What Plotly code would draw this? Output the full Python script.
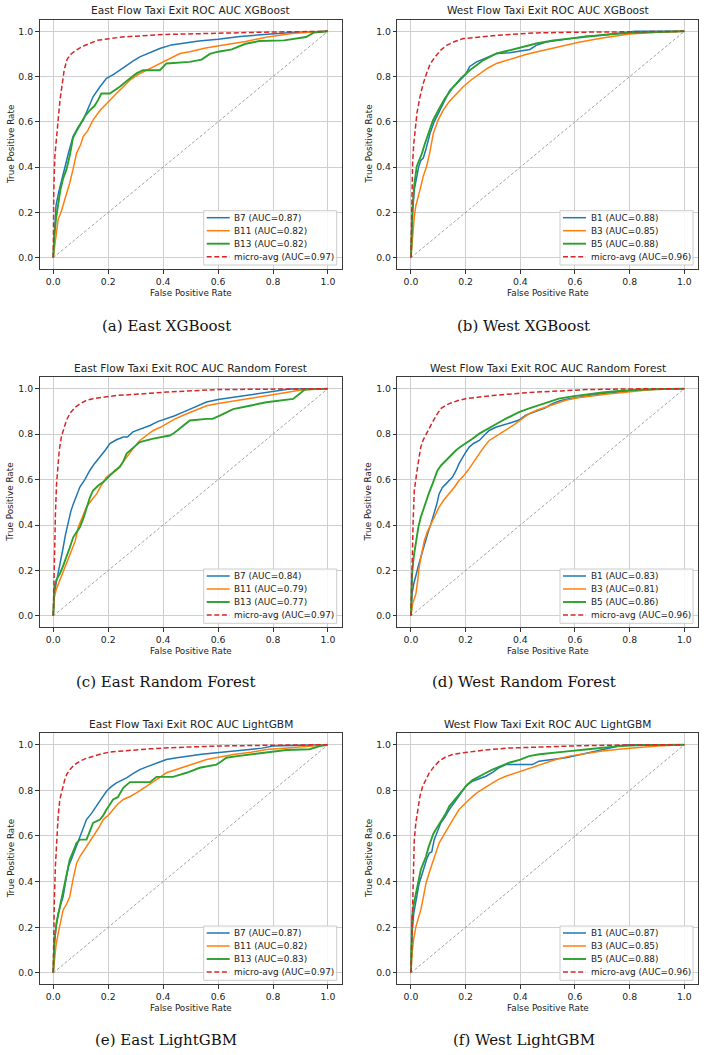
import plotly.graph_objects as go

# ---------------- data ----------------
TICK_VALUES = [0.0, 0.2, 0.4, 0.6, 0.8, 1.0]
TICK_LABELS = ["0.0", "0.2", "0.4", "0.6", "0.8", "1.0"]
DIAG_X = [0.0, 1.0]
DIAG_Y = [0.0, 1.0]

TITLES = [
    "East Flow Taxi Exit ROC AUC XGBoost",
    "West Flow Taxi Exit ROC AUC XGBoost",
    "East Flow Taxi Exit ROC AUC Random Forest",
    "West Flow Taxi Exit ROC AUC Random Forest",
    "East Flow Taxi Exit ROC AUC LightGBM",
    "West Flow Taxi Exit ROC AUC LightGBM",
]
CAPTIONS = [
    "(a) East XGBoost", "(b) West XGBoost",
    "(c) East Random Forest", "(d) West Random Forest",
    "(e) East LightGBM", "(f) West LightGBM",
]
EAST_CLASSES = ["B7", "B11", "B13"]
WEST_CLASSES = ["B1", "B3", "B5"]

AUC_A = [0.87, 0.82, 0.82, 0.97]
AUC_B = [0.88, 0.85, 0.88, 0.96]
AUC_C = [0.84, 0.79, 0.77, 0.97]
AUC_D = [0.83, 0.81, 0.86, 0.96]
AUC_E = [0.87, 0.82, 0.83, 0.97]
AUC_F = [0.87, 0.85, 0.88, 0.96]

# (a) East XGBoost
A1_X = [0, 0.004, 0.01, 0.02, 0.03, 0.042, 0.055, 0.072, 0.09, 0.109, 0.13, 0.145, 0.17, 0.194, 0.22, 0.255, 0.29, 0.315, 0.35, 0.388, 0.43, 0.461, 0.53, 0.6, 0.68, 0.78, 0.87, 0.95, 1.0]
A1_Y = [0, 0.12, 0.23, 0.29, 0.34, 0.39, 0.46, 0.535, 0.575, 0.608, 0.67, 0.711, 0.755, 0.792, 0.81, 0.84, 0.868, 0.887, 0.905, 0.924, 0.94, 0.946, 0.957, 0.965, 0.977, 0.987, 0.995, 0.998, 1.0]
A2_X = [0, 0.006, 0.012, 0.018, 0.028, 0.036, 0.048, 0.06, 0.072, 0.085, 0.1, 0.109, 0.125, 0.145, 0.17, 0.194, 0.21, 0.23, 0.255, 0.279, 0.31, 0.339, 0.37, 0.4, 0.43, 0.461, 0.497, 0.55, 0.62, 0.7, 0.78, 0.87, 0.94, 1.0]
A2_Y = [0, 0.066, 0.12, 0.17, 0.2, 0.23, 0.28, 0.33, 0.39, 0.462, 0.5, 0.535, 0.56, 0.608, 0.65, 0.681, 0.7, 0.725, 0.755, 0.784, 0.81, 0.828, 0.845, 0.865, 0.885, 0.902, 0.91, 0.925, 0.94, 0.955, 0.975, 0.99, 0.997, 1.0]
A3_X = [0, 0.004, 0.01, 0.018, 0.026, 0.036, 0.048, 0.06, 0.072, 0.085, 0.1, 0.115, 0.133, 0.15, 0.163, 0.175, 0.206, 0.242, 0.279, 0.303, 0.327, 0.388, 0.412, 0.497, 0.54, 0.57, 0.6, 0.65, 0.7, 0.75, 0.84, 0.92, 0.95, 1.0]
A3_Y = [0, 0.1, 0.17, 0.24, 0.3, 0.35, 0.389, 0.45, 0.53, 0.56, 0.59, 0.625, 0.651, 0.67, 0.696, 0.725, 0.725, 0.755, 0.792, 0.814, 0.828, 0.828, 0.858, 0.865, 0.875, 0.9, 0.91, 0.92, 0.945, 0.957, 0.96, 0.975, 0.995, 1.0]
A4_X = [0, 0.002, 0.006, 0.012, 0.018, 0.025, 0.032, 0.04, 0.05, 0.065, 0.085, 0.11, 0.16, 0.25, 0.4, 0.6, 0.8, 1.0]
A4_Y = [0, 0.3, 0.45, 0.55, 0.61, 0.7, 0.77, 0.83, 0.875, 0.9, 0.918, 0.935, 0.96, 0.975, 0.986, 0.993, 0.997, 1.0]

# (b) West XGBoost
B1_X = [0, 0.003, 0.006, 0.012, 0.02, 0.028, 0.036, 0.045, 0.055, 0.07, 0.085, 0.106, 0.125, 0.142, 0.16, 0.179, 0.2, 0.215, 0.24, 0.264, 0.29, 0.313, 0.361, 0.41, 0.435, 0.458, 0.495, 0.54, 0.6, 0.64, 0.7, 0.76, 0.82, 1.0]
B1_Y = [0, 0.12, 0.2, 0.3, 0.36, 0.4, 0.43, 0.44, 0.48, 0.55, 0.6, 0.652, 0.7, 0.74, 0.76, 0.784, 0.81, 0.845, 0.865, 0.877, 0.89, 0.902, 0.905, 0.916, 0.92, 0.938, 0.953, 0.96, 0.97, 0.978, 0.983, 0.993, 1.0, 1.0]
B2_X = [0, 0.003, 0.006, 0.012, 0.018, 0.027, 0.036, 0.045, 0.057, 0.068, 0.082, 0.1, 0.118, 0.14, 0.167, 0.191, 0.22, 0.252, 0.28, 0.313, 0.35, 0.386, 0.42, 0.458, 0.495, 0.55, 0.614, 0.7, 0.8, 0.9, 1.0]
B2_Y = [0, 0.05, 0.11, 0.18, 0.23, 0.28, 0.315, 0.36, 0.403, 0.46, 0.55, 0.61, 0.652, 0.69, 0.726, 0.755, 0.785, 0.814, 0.837, 0.858, 0.873, 0.887, 0.898, 0.909, 0.92, 0.935, 0.952, 0.97, 0.988, 0.996, 1.0]
B3_X = [0, 0.003, 0.006, 0.012, 0.021, 0.03, 0.04, 0.05, 0.063, 0.08, 0.1, 0.125, 0.155, 0.185, 0.215, 0.24, 0.264, 0.29, 0.313, 0.35, 0.386, 0.42, 0.458, 0.52, 0.6, 0.7, 0.8, 1.0]
B3_Y = [0, 0.15, 0.23, 0.32, 0.403, 0.43, 0.46, 0.5, 0.55, 0.605, 0.652, 0.705, 0.755, 0.795, 0.828, 0.852, 0.872, 0.888, 0.902, 0.913, 0.924, 0.935, 0.946, 0.96, 0.972, 0.984, 0.994, 1.0]
B4_X = [0, 0.002, 0.006, 0.01, 0.015, 0.022, 0.033, 0.045, 0.057, 0.07, 0.088, 0.11, 0.13, 0.16, 0.191, 0.25, 0.312, 0.4, 0.458, 0.6, 0.8, 1.0]
B4_Y = [0, 0.25, 0.42, 0.5, 0.564, 0.64, 0.711, 0.77, 0.814, 0.855, 0.887, 0.918, 0.938, 0.955, 0.968, 0.976, 0.982, 0.989, 0.993, 0.996, 0.999, 1.0]

# (c) East Random Forest
C1_X = [0, 0.004, 0.01, 0.018, 0.027, 0.036, 0.045, 0.055, 0.064, 0.073, 0.085, 0.097, 0.115, 0.133, 0.15, 0.17, 0.19, 0.206, 0.23, 0.255, 0.27, 0.29, 0.32, 0.352, 0.38, 0.412, 0.44, 0.473, 0.52, 0.558, 0.6, 0.655, 0.72, 0.776, 0.86, 1.0]
C1_Y = [0, 0.097, 0.14, 0.185, 0.24, 0.3, 0.36, 0.42, 0.46, 0.493, 0.53, 0.567, 0.6, 0.64, 0.67, 0.699, 0.73, 0.758, 0.775, 0.787, 0.787, 0.81, 0.822, 0.838, 0.855, 0.868, 0.88, 0.897, 0.92, 0.941, 0.952, 0.962, 0.975, 0.985, 0.999, 1.0]
C2_X = [0, 0.004, 0.012, 0.024, 0.033, 0.042, 0.055, 0.067, 0.08, 0.091, 0.105, 0.121, 0.14, 0.158, 0.175, 0.194, 0.21, 0.23, 0.25, 0.267, 0.29, 0.315, 0.34, 0.364, 0.39, 0.412, 0.44, 0.473, 0.52, 0.558, 0.6, 0.655, 0.72, 0.776, 0.84, 0.897, 0.95, 1.0]
C2_Y = [0, 0.082, 0.12, 0.156, 0.19, 0.214, 0.25, 0.288, 0.33, 0.39, 0.43, 0.479, 0.51, 0.537, 0.575, 0.611, 0.625, 0.64, 0.67, 0.699, 0.735, 0.772, 0.795, 0.816, 0.83, 0.846, 0.865, 0.883, 0.905, 0.925, 0.935, 0.947, 0.958, 0.969, 0.98, 0.993, 0.998, 1.0]
C3_X = [0, 0.004, 0.012, 0.024, 0.036, 0.048, 0.06, 0.073, 0.085, 0.097, 0.11, 0.121, 0.133, 0.145, 0.165, 0.182, 0.206, 0.225, 0.242, 0.255, 0.267, 0.29, 0.315, 0.364, 0.424, 0.44, 0.461, 0.48, 0.497, 0.558, 0.58, 0.606, 0.63, 0.655, 0.715, 0.776, 0.873, 0.885, 0.897, 0.915, 1.0]
C3_Y = [0, 0.126, 0.16, 0.185, 0.22, 0.258, 0.3, 0.347, 0.37, 0.39, 0.43, 0.479, 0.52, 0.552, 0.575, 0.589, 0.618, 0.64, 0.655, 0.68, 0.714, 0.74, 0.765, 0.78, 0.794, 0.805, 0.824, 0.845, 0.86, 0.867, 0.867, 0.881, 0.895, 0.91, 0.925, 0.94, 0.955, 0.965, 0.978, 0.996, 1.0]
C4_X = [0, 0.002, 0.004, 0.008, 0.012, 0.017, 0.022, 0.03, 0.036, 0.048, 0.06, 0.08, 0.097, 0.12, 0.145, 0.19, 0.23, 0.3, 0.412, 0.594, 0.8, 1.0]
C4_Y = [0, 0.15, 0.26, 0.45, 0.58, 0.67, 0.73, 0.79, 0.816, 0.86, 0.89, 0.918, 0.933, 0.948, 0.956, 0.965, 0.97, 0.975, 0.985, 0.996, 0.999, 1.0]

# (d) West Random Forest
D1_X = [0, 0.004, 0.01, 0.018, 0.027, 0.036, 0.048, 0.061, 0.073, 0.085, 0.094, 0.103, 0.115, 0.128, 0.14, 0.152, 0.165, 0.176, 0.195, 0.213, 0.23, 0.25, 0.268, 0.286, 0.31, 0.335, 0.371, 0.395, 0.42, 0.445, 0.468, 0.49, 0.517, 0.545, 0.578, 0.64, 0.7, 0.76, 0.82, 0.9, 1.0]
D1_Y = [0, 0.097, 0.14, 0.185, 0.22, 0.258, 0.31, 0.361, 0.405, 0.449, 0.49, 0.537, 0.565, 0.581, 0.595, 0.611, 0.64, 0.67, 0.71, 0.743, 0.76, 0.772, 0.795, 0.816, 0.83, 0.838, 0.852, 0.862, 0.883, 0.895, 0.905, 0.915, 0.934, 0.947, 0.956, 0.968, 0.978, 0.985, 0.993, 0.997, 1.0]
D2_X = [0, 0.006, 0.012, 0.018, 0.024, 0.03, 0.04, 0.049, 0.06, 0.073, 0.088, 0.103, 0.12, 0.14, 0.158, 0.176, 0.195, 0.213, 0.23, 0.25, 0.268, 0.286, 0.31, 0.335, 0.36, 0.383, 0.41, 0.432, 0.46, 0.493, 0.53, 0.566, 0.61, 0.663, 0.72, 0.785, 0.882, 1.0]
D2_Y = [0, 0.053, 0.075, 0.097, 0.15, 0.214, 0.28, 0.332, 0.37, 0.405, 0.44, 0.479, 0.51, 0.537, 0.565, 0.596, 0.62, 0.648, 0.68, 0.714, 0.745, 0.772, 0.79, 0.809, 0.828, 0.846, 0.87, 0.89, 0.905, 0.919, 0.935, 0.949, 0.96, 0.969, 0.977, 0.984, 0.996, 1.0]
D3_X = [0, 0.004, 0.01, 0.018, 0.027, 0.036, 0.045, 0.055, 0.067, 0.079, 0.088, 0.097, 0.11, 0.128, 0.145, 0.164, 0.18, 0.2, 0.225, 0.25, 0.275, 0.298, 0.32, 0.347, 0.37, 0.395, 0.43, 0.468, 0.5, 0.541, 0.59, 0.639, 0.7, 0.76, 0.85, 1.0]
D3_Y = [0, 0.185, 0.26, 0.332, 0.39, 0.435, 0.47, 0.508, 0.545, 0.581, 0.61, 0.64, 0.662, 0.684, 0.705, 0.728, 0.743, 0.758, 0.78, 0.802, 0.82, 0.838, 0.85, 0.868, 0.882, 0.897, 0.912, 0.927, 0.94, 0.956, 0.966, 0.975, 0.983, 0.99, 0.996, 1.0]
D4_X = [0, 0.002, 0.004, 0.008, 0.012, 0.018, 0.024, 0.03, 0.036, 0.045, 0.055, 0.067, 0.079, 0.094, 0.109, 0.125, 0.14, 0.17, 0.2, 0.25, 0.298, 0.38, 0.456, 0.55, 0.639, 0.8, 1.0]
D4_Y = [0, 0.15, 0.26, 0.42, 0.55, 0.61, 0.655, 0.7, 0.743, 0.775, 0.8, 0.828, 0.853, 0.885, 0.912, 0.925, 0.934, 0.947, 0.956, 0.963, 0.97, 0.978, 0.985, 0.99, 0.996, 0.999, 1.0]

# (e) East LightGBM
E1_X = [0, 0.004, 0.01, 0.018, 0.027, 0.036, 0.045, 0.055, 0.067, 0.079, 0.09, 0.103, 0.112, 0.121, 0.14, 0.158, 0.176, 0.194, 0.21, 0.23, 0.25, 0.267, 0.29, 0.315, 0.34, 0.364, 0.39, 0.412, 0.45, 0.485, 0.54, 0.594, 0.65, 0.715, 0.76, 0.8, 0.9, 1.0]
E1_Y = [0, 0.114, 0.2, 0.26, 0.3, 0.334, 0.4, 0.466, 0.5, 0.54, 0.575, 0.613, 0.645, 0.672, 0.7, 0.73, 0.765, 0.796, 0.815, 0.833, 0.845, 0.855, 0.873, 0.891, 0.903, 0.914, 0.925, 0.935, 0.943, 0.95, 0.958, 0.965, 0.97, 0.979, 0.985, 0.994, 0.998, 1.0]
E2_X = [0, 0.004, 0.01, 0.018, 0.027, 0.036, 0.048, 0.06, 0.072, 0.085, 0.097, 0.109, 0.125, 0.145, 0.165, 0.182, 0.2, 0.218, 0.235, 0.255, 0.28, 0.303, 0.33, 0.352, 0.38, 0.412, 0.45, 0.485, 0.52, 0.558, 0.6, 0.655, 0.72, 0.776, 0.84, 0.897, 1.0]
E2_Y = [0, 0.056, 0.12, 0.173, 0.23, 0.276, 0.3, 0.334, 0.41, 0.481, 0.51, 0.532, 0.56, 0.598, 0.635, 0.672, 0.69, 0.716, 0.74, 0.76, 0.773, 0.789, 0.81, 0.826, 0.85, 0.877, 0.893, 0.906, 0.92, 0.935, 0.945, 0.957, 0.967, 0.979, 0.985, 0.991, 1.0]
E3_X = [0, 0.004, 0.012, 0.024, 0.033, 0.042, 0.05, 0.06, 0.072, 0.085, 0.097, 0.121, 0.133, 0.145, 0.17, 0.182, 0.194, 0.206, 0.218, 0.235, 0.255, 0.279, 0.352, 0.376, 0.436, 0.46, 0.485, 0.533, 0.594, 0.61, 0.63, 0.67, 0.715, 0.848, 0.933, 0.97, 1.0]
E3_Y = [0, 0.144, 0.22, 0.29, 0.34, 0.393, 0.44, 0.496, 0.53, 0.569, 0.584, 0.584, 0.62, 0.657, 0.672, 0.69, 0.716, 0.74, 0.76, 0.77, 0.811, 0.836, 0.836, 0.859, 0.859, 0.868, 0.877, 0.899, 0.913, 0.925, 0.943, 0.95, 0.957, 0.977, 0.98, 0.994, 1.0]
E4_X = [0, 0.002, 0.004, 0.008, 0.012, 0.018, 0.024, 0.033, 0.042, 0.05, 0.06, 0.077, 0.097, 0.12, 0.145, 0.175, 0.206, 0.27, 0.352, 0.45, 0.594, 0.8, 1.0]
E4_Y = [0, 0.18, 0.32, 0.47, 0.58, 0.69, 0.76, 0.81, 0.847, 0.872, 0.89, 0.912, 0.928, 0.94, 0.95, 0.96, 0.968, 0.975, 0.982, 0.988, 0.994, 0.998, 1.0]

# (f) West LightGBM
F1_X = [0, 0.004, 0.01, 0.018, 0.024, 0.03, 0.04, 0.049, 0.058, 0.067, 0.076, 0.085, 0.097, 0.109, 0.125, 0.14, 0.158, 0.176, 0.19, 0.2, 0.225, 0.25, 0.274, 0.3, 0.322, 0.347, 0.444, 0.468, 0.52, 0.566, 0.6, 0.639, 0.7, 0.76, 0.797, 1.0]
F1_Y = [0, 0.173, 0.26, 0.32, 0.36, 0.393, 0.43, 0.466, 0.5, 0.525, 0.53, 0.584, 0.62, 0.657, 0.685, 0.716, 0.745, 0.774, 0.8, 0.818, 0.84, 0.85, 0.862, 0.88, 0.899, 0.913, 0.913, 0.928, 0.935, 0.943, 0.952, 0.962, 0.978, 0.994, 1.0, 1.0]
F2_X = [0, 0.004, 0.01, 0.018, 0.027, 0.036, 0.045, 0.055, 0.067, 0.079, 0.09, 0.103, 0.118, 0.134, 0.155, 0.176, 0.195, 0.213, 0.23, 0.249, 0.275, 0.298, 0.32, 0.347, 0.38, 0.42, 0.455, 0.493, 0.53, 0.578, 0.64, 0.7, 0.76, 0.82, 0.9, 1.0]
F2_Y = [0, 0.085, 0.15, 0.202, 0.24, 0.276, 0.33, 0.393, 0.44, 0.481, 0.525, 0.569, 0.6, 0.635, 0.675, 0.716, 0.74, 0.76, 0.778, 0.796, 0.815, 0.833, 0.848, 0.862, 0.875, 0.891, 0.905, 0.921, 0.935, 0.95, 0.962, 0.972, 0.98, 0.987, 0.994, 1.0]
F3_X = [0, 0.004, 0.01, 0.018, 0.027, 0.036, 0.045, 0.055, 0.064, 0.073, 0.082, 0.091, 0.103, 0.116, 0.128, 0.14, 0.158, 0.176, 0.19, 0.207, 0.225, 0.249, 0.275, 0.298, 0.33, 0.359, 0.4, 0.432, 0.47, 0.517, 0.58, 0.639, 0.7, 0.76, 0.85, 1.0]
F3_Y = [0, 0.246, 0.3, 0.349, 0.4, 0.452, 0.48, 0.51, 0.55, 0.584, 0.61, 0.628, 0.65, 0.672, 0.7, 0.73, 0.757, 0.782, 0.805, 0.826, 0.845, 0.862, 0.877, 0.891, 0.906, 0.921, 0.935, 0.95, 0.958, 0.965, 0.972, 0.979, 0.987, 0.994, 0.998, 1.0]
F4_X = [0, 0.002, 0.004, 0.008, 0.012, 0.018, 0.024, 0.033, 0.043, 0.055, 0.067, 0.085, 0.103, 0.125, 0.152, 0.18, 0.213, 0.274, 0.35, 0.456, 0.6, 0.8, 1.0]
F4_Y = [0, 0.12, 0.246, 0.45, 0.58, 0.66, 0.716, 0.775, 0.818, 0.85, 0.877, 0.905, 0.928, 0.945, 0.957, 0.963, 0.968, 0.977, 0.985, 0.99, 0.995, 0.999, 1.0]

# ---------------- styling / layout ----------------
W_PX, H_PX = 706, 1055
COLORS = ["#1f77b4", "#ff7f0e", "#2ca02c", "#d62728"]
WIDTHS = [1.5, 1.5, 1.9, 1.5]
DASHES = ["solid", "solid", "solid", "5px,2.6px"]
FONT = "DejaVu Sans"
TXT = "#222222"

# frames in pixels: (left, right, top, bottom)
COL_X = [(39.5, 341.7), (397.3, 698.0)]
ROW_Y = [(20.0, 269.0), (377.3, 627.3), (733.3, 984.3)]
CAP_X = [166.3, 523.5]
CAP_Y = [326.0, 681.7, 1040.0]

panels = [
    (EAST_CLASSES, AUC_A, [(A1_X, A1_Y), (A2_X, A2_Y), (A3_X, A3_Y), (A4_X, A4_Y)]),
    (WEST_CLASSES, AUC_B, [(B1_X, B1_Y), (B2_X, B2_Y), (B3_X, B3_Y), (B4_X, B4_Y)]),
    (EAST_CLASSES, AUC_C, [(C1_X, C1_Y), (C2_X, C2_Y), (C3_X, C3_Y), (C4_X, C4_Y)]),
    (WEST_CLASSES, AUC_D, [(D1_X, D1_Y), (D2_X, D2_Y), (D3_X, D3_Y), (D4_X, D4_Y)]),
    (EAST_CLASSES, AUC_E, [(E1_X, E1_Y), (E2_X, E2_Y), (E3_X, E3_Y), (E4_X, E4_Y)]),
    (WEST_CLASSES, AUC_F, [(F1_X, F1_Y), (F2_X, F2_Y), (F3_X, F3_Y), (F4_X, F4_Y)]),
]

fig = go.Figure()
layout = dict(
    width=W_PX, height=H_PX, margin=dict(l=0, r=0, t=0, b=0),
    paper_bgcolor="white", plot_bgcolor="white", showlegend=False,
    font=dict(family=FONT, color=TXT),
)
annotations = []
shapes = []

for i, (classes, aucs, curves) in enumerate(panels):
    n = i + 1
    r, c = divmod(i, 2)
    xl, xr = COL_X[c]
    yt, yb = ROW_Y[r]
    fw, fh = xr - xl, yb - yt
    xa = "x" if n == 1 else f"x{n}"
    ya = "y" if n == 1 else f"y{n}"
    xkey = "xaxis" if n == 1 else f"xaxis{n}"
    ykey = "yaxis" if n == 1 else f"yaxis{n}"
    axis_common = dict(
        range=[-0.05, 1.05], tickvals=TICK_VALUES, ticktext=TICK_LABELS,
        ticks="outside", ticklen=3.5, tickwidth=0.8, tickcolor="#333333",
        showgrid=True, gridcolor="#cfcfcf", gridwidth=0.8, zeroline=False,
        showline=True, mirror=True, linecolor="#3a3a3a", linewidth=1,
        tickfont=dict(family=FONT, size=9.3, color=TXT), layer="below traces",
    )
    layout[xkey] = dict(axis_common, domain=[xl / W_PX, xr / W_PX], anchor=ya)
    layout[ykey] = dict(axis_common, domain=[1 - yb / H_PX, 1 - yt / H_PX], anchor=xa)

    labels = [f"{cl} (AUC={a:.2f})" for cl, a in zip(classes, aucs[:3])] + [f"micro-avg (AUC={aucs[3]:.2f})"]

    for k, (cx, cy) in enumerate(curves):
        fig.add_trace(go.Scatter(
            x=cx, y=cy, mode="lines", xaxis=xa, yaxis=ya, name=labels[k],
            line=dict(color=COLORS[k], width=WIDTHS[k], dash=DASHES[k]),
            hoverinfo="skip",
        ))
    fig.add_trace(go.Scatter(
        x=DIAG_X, y=DIAG_Y, mode="lines", xaxis=xa, yaxis=ya,
        line=dict(color="#8a8a8a", width=0.8, dash="3px,2px"), hoverinfo="skip",
    ))

    xd, yd = f"{xa} domain", f"{ya} domain"
    annotations.append(dict(text=TITLES[i], xref=xd, yref=yd, x=0.5, y=1,
                            xanchor="center", yanchor="middle", yshift=9.8,
                            showarrow=False, font=dict(family=FONT, size=10.6, color=TXT)))
    annotations.append(dict(text="False Positive Rate", xref=xd, yref=yd, x=0.5, y=0,
                            xanchor="center", yanchor="middle", yshift=-23.7,
                            showarrow=False, font=dict(family=FONT, size=8.8, color=TXT)))
    annotations.append(dict(text="True Positive Rate", xref=xd, yref=yd, x=0, y=0.5,
                            xanchor="center", yanchor="middle", xshift=-29, textangle=-90,
                            showarrow=False, font=dict(family=FONT, size=8.8, color=TXT)))
    annotations.append(dict(text=CAPTIONS[i], xref="paper", yref="paper",
                            x=CAP_X[c] / W_PX, y=1 - CAP_Y[r] / H_PX,
                            xanchor="center", yanchor="middle", showarrow=False,
                            font=dict(family="DejaVu Serif", size=15.0, color="#111111")))

    # legend box (drawn in axis-domain units)
    box_w, box_h = 133.0, 54.3
    bx1 = fw - 5.0
    bx0 = bx1 - box_w
    by0 = 4.0
    by1 = by0 + box_h
    shapes.append(dict(type="rect", xref=xd, yref=yd,
                       x0=bx0 / fw, x1=bx1 / fw, y0=by0 / fh, y1=by1 / fh,
                       fillcolor="rgba(255,255,255,0.85)",
                       line=dict(color="#cccccc", width=1), layer="above"))
    for k in range(4):
        yc = by1 - (7.0 + 13.0 * k)
        shapes.append(dict(type="line", xref=xd, yref=yd,
                           x0=(bx0 + 3.0) / fw, x1=(bx0 + 26.0) / fw,
                           y0=yc / fh, y1=yc / fh, layer="above",
                           line=dict(color=COLORS[k], width=WIDTHS[k], dash=DASHES[k])))
        annotations.append(dict(text=labels[k], xref=xd, yref=yd,
                                x=(bx0 + 28.5) / fw, y=yc / fh,
                                xanchor="left", yanchor="middle", showarrow=False,
                                font=dict(family=FONT, size=8.9, color=TXT)))

layout["annotations"] = annotations
layout["shapes"] = shapes
fig.update_layout(**layout)
fig.write_html("out.html")
